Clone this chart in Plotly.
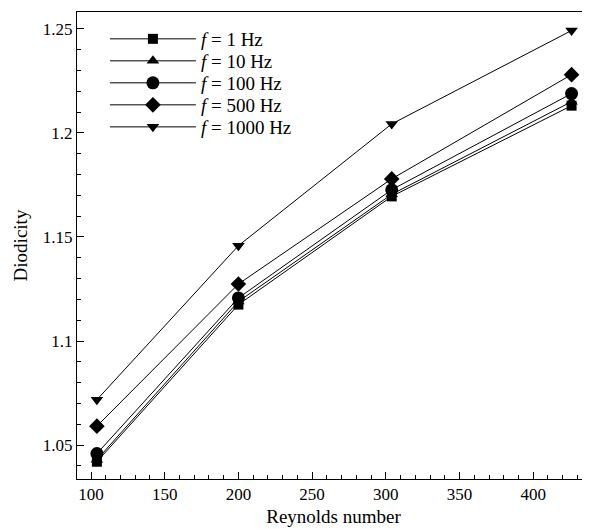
import plotly.graph_objects as go

reynolds = [104, 200, 304, 426]
labels = ["<i>f</i> = 1 Hz", "<i>f</i> = 10 Hz", "<i>f</i> = 100 Hz", "<i>f</i> = 500 Hz", "<i>f</i> = 1000 Hz"]
d_1 = [1.042, 1.1175, 1.1695, 1.2131]
d_10 = [1.043, 1.119, 1.1705, 1.2150]
d_100 = [1.0459, 1.1207, 1.1727, 1.2189]
d_500 = [1.0591, 1.1274, 1.1779, 1.2280]
d_1000 = [1.0718, 1.1458, 1.2043, 1.2492]
series = [d_1, d_10, d_100, d_500, d_1000]
symbols = ["square", "triangle-up", "circle", "diamond", "triangle-down"]
sizes = [10, 11, 13, 12, 11]

y_tickvals = [1.05, 1.1, 1.15, 1.2, 1.25]
y_ticktext = ["1.05", "1.1", "1.15", "1.2", "1.25"]
x_tickvals = [100, 150, 200, 250, 300, 350, 400]

FONT = "Liberation Serif, Times New Roman, serif"

# one legend box per entry so the rows can be spaced tightly like the reference
legend_names = ["legend", "legend2", "legend3", "legend4", "legend5"]
legend_rows = [0.9422, 0.8951, 0.8480, 0.8009, 0.7537]

fig = go.Figure()
for lab, ys, sym, sz, lg in zip(labels, series, symbols, sizes, legend_names):
    fig.add_trace(go.Scatter(
        x=reynolds, y=ys, name=lab, mode="lines+markers",
        line=dict(color="black", width=1),
        marker=dict(symbol=sym, size=sz, color="black", line=dict(width=0)),
        legend=lg,
    ))

legend_style = dict(
    xanchor="left", yanchor="middle", x=0.0544,
    bgcolor="rgba(0,0,0,0)", font=dict(size=19, family=FONT),
    itemwidth=86, borderwidth=0,
)
legend_layout = {}
for lg, ry in zip(legend_names, legend_rows):
    legend_layout[lg] = dict(legend_style, y=ry)

fig.update_layout(
    width=582, height=521,
    margin=dict(l=69, r=0, t=4, b=50),
    paper_bgcolor="white", plot_bgcolor="white",
    font=dict(family=FONT, color="black", size=17),
    showlegend=True,
    xaxis=dict(
        range=[90.5, 438.5], showgrid=False, zeroline=False,
        showline=True, linecolor="black", linewidth=1, mirror=True,
        ticks="inside", ticklen=7, tickcolor="black",
        tickvals=x_tickvals, tickfont=dict(size=17),
        minor=dict(ticks="inside", ticklen=4, dtick=10, tickcolor="black", showgrid=False),
        title=dict(text="Reynolds number", font=dict(size=19), standoff=6),
    ),
    yaxis=dict(
        range=[1.0337, 1.2581], showgrid=False, zeroline=False,
        showline=True, linecolor="black", linewidth=1,
        ticks="inside", ticklen=7, tickcolor="black",
        tickvals=y_tickvals, ticktext=y_ticktext, tickfont=dict(size=17),
        minor=dict(ticks="inside", ticklen=4, dtick=0.01, tick0=1.0, tickcolor="black", showgrid=False),
        title=dict(text="Diodicity", font=dict(size=19), standoff=10),
    ),
    **legend_layout,
)

fig.write_html("out.html")
